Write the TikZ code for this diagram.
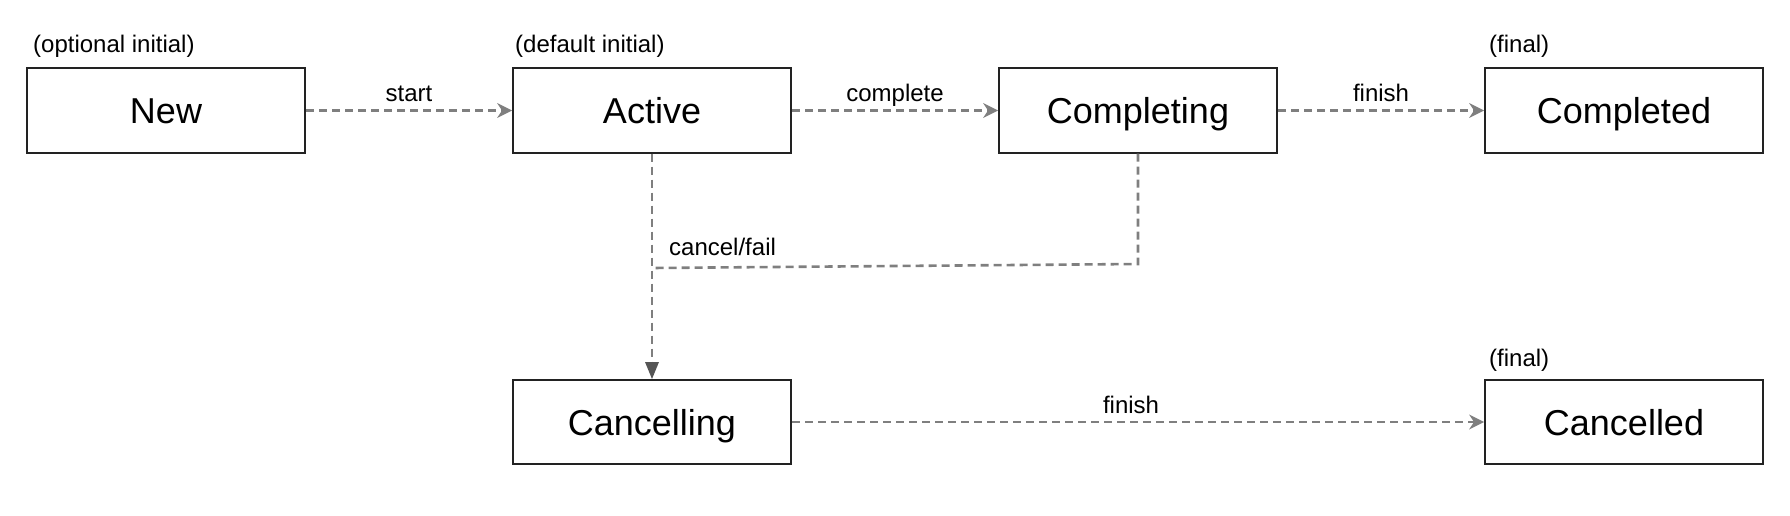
\documentclass[tikz,border=0pt]{standalone}
\usepackage{fontspec}
\setmainfont{Liberation Sans}
\usetikzlibrary{arrows.meta}
\definecolor{boxline}{HTML}{222222}
\definecolor{conn}{HTML}{7F7F7F}
\definecolor{tipdark}{HTML}{555555}
\begin{document}
\begin{tikzpicture}[x=1pt,y=-1pt,
  state/.style={draw=boxline, line width=2pt, fill=white, minimum width=278pt,
    minimum height=84pt, inner sep=0pt, font=\fontsize{36}{40}\selectfont,
    text height=26pt, text depth=0pt},
  tag/.style={font=\fontsize{24}{28}\selectfont, inner sep=0pt, anchor=base west},
  elabel/.style={font=\fontsize{24}{28}\selectfont, inner sep=0pt, anchor=base, midway, yshift=9pt},
  connline/.style={draw=conn, line width=2.6pt, dash pattern=on 8pt off 5pt},
  trans/.style={connline, -{Stealth[length=15pt,width=15pt,inset=5pt,fill=conn,line width=0pt]}},
  transdown/.style={connline, -{Triangle[length=17pt,width=14pt,fill=tipdark,color=tipdark,line width=0pt]}}]
\useasboundingbox (0,0) rectangle (1790,516);

\node[state] (new) at (166,110.5) {New};
\node[state] (active) at (652,110.5) {Active};
\node[state] (completing) at (1138,110.5) {Completing};
\node[state] (completed) at (1624,110.5) {Completed};
\node[state] (cancelling) at (652,422) {Cancelling};
\node[state] (cancelled) at (1624,422) {Cancelled};

\node[tag] (tnew) at (33,53) {(optional initial)};
\node[tag] (tactive) at (515,53) {(default initial)};
\node[tag] (tcompleted) at (1489,53) {(final)};
\node[tag] (tcancelled) at (1489,366) {(final)};

\draw[trans] (new) -- (active) node[elabel] {start};
\draw[trans] (active) -- (completing) node[elabel] {complete};
\draw[trans] (completing) -- (completed) node[elabel] {finish};
\draw[trans] (cancelling) -- (cancelled) node[elabel, xshift=-7pt] {finish};

\draw[transdown] (active) -- (cancelling);
\coordinate (j2) at (1138,264);
\coordinate (j1) at (652,268);
\draw[connline] (completing) -- (j2) -- (j1);
\node[tag] (lcancel) at (669,255) {cancel/fail};
\end{tikzpicture}
\end{document}
